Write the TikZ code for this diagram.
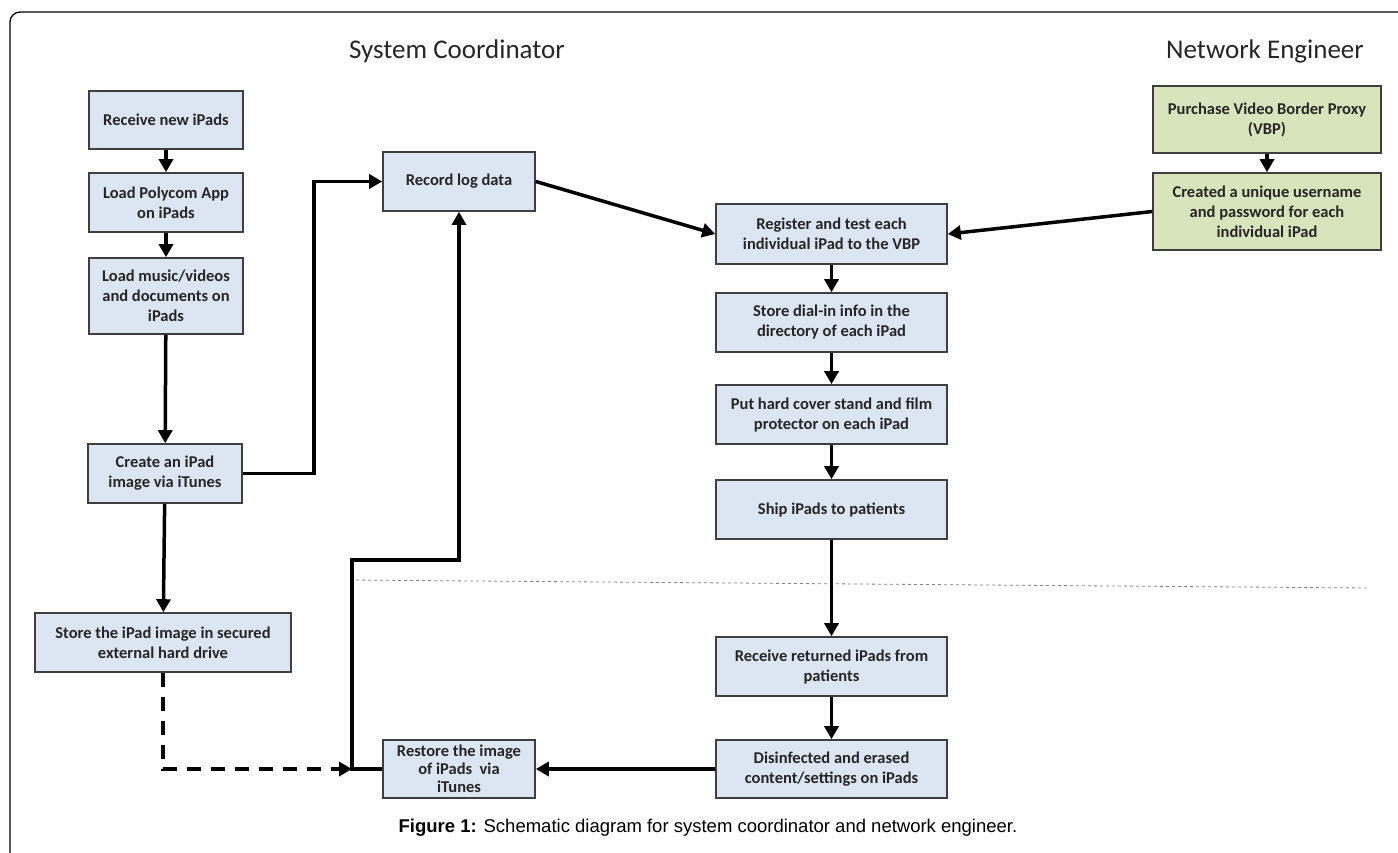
\documentclass[tikz,border=0pt]{standalone}
\usepackage{fontspec}
\setmainfont{Carlito}
\newfontfamily\capfont{Liberation Sans}
\usetikzlibrary{arrows.meta}
\definecolor{bx}{HTML}{DCE6F2}
\definecolor{gn}{HTML}{D8E4BC}
\definecolor{ed}{HTML}{3F3F3F}
\definecolor{tx}{HTML}{262626}

\tikzset{
  box/.style={draw=ed, line width=1.6pt, fill=bx, align=center, inner sep=0pt,
    text=tx, font=\fontsize{16.5}{20}\selectfont\bfseries},
  gbox/.style={box, fill=gn},
  arr/.style={line width=3.5pt, -{Triangle[length=13pt,width=14pt]}},
  head/.style={font=\fontsize{27}{30}\selectfont, text=tx}
}

\begin{document}
\begin{tikzpicture}[x=1pt,y=-1pt]
  \useasboundingbox (0,0) rectangle (1398,852);
  \fill[white] (0,0) rectangle (1398,852);
  \draw[line width=1.3pt, rounded corners=10pt] (10,900) -- (10,12) -- (1420,12);

  \node[head] (sc) at (457,51) {System Coordinator};
  \node[head] (ne) at (1265,51) {Network Engineer};

  % system coordinator, left column
  \node[box, minimum width=154, minimum height=58] (recv) at (166,120) {Receive new iPads};
  \node[box, minimum width=154, minimum height=59] (poly) at (166,202.5) {Load Polycom App\\on iPads};
  \node[box, minimum width=154, minimum height=76] (music) at (166,296) {Load music/videos\\and documents on\\iPads};
  \node[box, minimum width=154, minimum height=59] (create) at (165,473.5) {Create an iPad\\image via iTunes};
  \node[box, minimum width=256, minimum height=59] (store) at (163,642.5) {Store the iPad image in secured\\external hard drive};
  \node[box, minimum width=152, minimum height=59] (record) at (459,181.5) {Record log data};
  \node[box, minimum width=152, minimum height=58, font=\fontsize{16.5}{18}\selectfont\bfseries] (restore) at (459,769) {Restore the image\\of iPads\ \ via\\iTunes};

  % middle column
  \node[box, minimum width=231, minimum height=60] (register) at (831.5,234) {Register and test each\\individual iPad to the VBP};
  \node[box, minimum width=231, minimum height=59] (dial) at (831.5,322.5) {Store dial-in info in the\\directory of each iPad};
  \node[box, minimum width=231, minimum height=59] (cover) at (831.5,414.5) {Put hard cover stand and film\\protector on each iPad};
  \node[box, minimum width=231, minimum height=59] (ship) at (831.5,509.5) {Ship iPads to patients};
  \node[box, minimum width=231, minimum height=59] (back) at (831.5,666.5) {Receive returned iPads from\\patients};
  \node[box, minimum width=231, minimum height=58] (clean) at (831.5,769) {Disinfected and erased\\content/settings on iPads};

  % network engineer
  \node[gbox, minimum width=228, minimum height=67] (vbp) at (1267,119.5) {Purchase Video Border Proxy\\(VBP)};
  \node[gbox, minimum width=228, minimum height=77] (user) at (1267,211.5) {Created a unique username\\and password for each\\individual iPad};

  \draw[gray, dashed, line width=0.8pt] (350,580) -- (1368,588);

  \draw[arr] (recv) -- (poly);
  \draw[arr] (poly) -- (music);
  \draw[arr] (music) -- (create);
  \draw[arr] (create) -- (store);
  \draw[arr] (create.east) -- ++(71,0) |- (record.west);
  \draw[arr] (record.east) -- (register.west);
  \draw[arr] (vbp) -- (user);
  \draw[arr] (user.west) -- (register.east);
  \draw[arr] (register) -- (dial);
  \draw[arr] (dial) -- (cover);
  \draw[arr] (cover) -- (ship);
  \draw[arr] (ship) -- (back);
  \draw[arr] (back) -- (clean);
  \draw[arr] (clean) -- (restore);
  \draw[arr] (restore.west) -| (352,560) -| (record.south);
  \coordinate (turn) at (352,769);
  \draw[arr, dash pattern=on 14pt off 10pt] (store.south) |- (turn);

  \node[font=\capfont\fontsize{18.5}{22}\selectfont] (cap) at (708,828)
    {\textbf{Figure 1:} Schematic diagram for system coordinator and network engineer.};
\end{tikzpicture}
\end{document}
